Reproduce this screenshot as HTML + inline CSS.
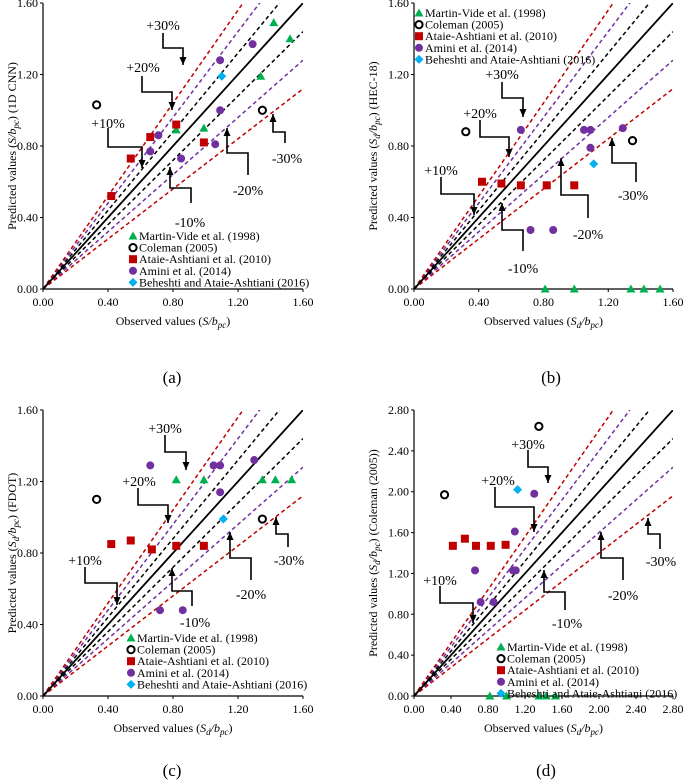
<!DOCTYPE html>
<html><head><meta charset="utf-8">
<style>
html,body{margin:0;padding:0;background:#fff;}
svg{display:block;font-family:"Liberation Serif",serif;}
</style></head>
<body>
<svg id="fig" width="685" height="782" viewBox="0 0 685 782" xmlns="http://www.w3.org/2000/svg"></svg>
<script>
// ---------- Data (panel a: 1D CNN) ----------
const aMartinX=[1.42,1.52,1.34,0.99,0.82];
const aMartinY=[1.49,1.40,1.19,0.90,0.89];
const aColemanX=[0.33,1.35];
const aColemanY=[1.03,1.00];
const aAtaieX=[0.42,0.54,0.66,0.82,0.99];
const aAtaieY=[0.52,0.73,0.85,0.92,0.82];
const aAminiX=[0.66,0.71,0.85,1.09,1.09,1.06,1.29];
const aAminiY=[0.77,0.86,0.73,1.28,1.00,0.81,1.37];
const aBeheshtiX=[1.10];
const aBeheshtiY=[1.19];
// ---------- panel b: HEC-18 ----------
const bMartinX=[0.81,0.99,1.34,1.42,1.52];
const bMartinY=[0,0,0,0,0];
const bColemanX=[0.32,1.35];
const bColemanY=[0.88,0.83];
const bAtaieX=[0.42,0.54,0.66,0.82,0.99];
const bAtaieY=[0.60,0.59,0.58,0.58,0.58];
const bAminiX=[0.66,1.05,1.09,1.29,1.09,0.72,0.86];
const bAminiY=[0.89,0.89,0.89,0.90,0.79,0.33,0.33];
const bBeheshtiX=[1.11];
const bBeheshtiY=[0.70];
// ---------- panel c: FDOT ----------
const cMartinX=[0.82,0.99,1.35,1.43,1.53];
const cMartinY=[1.21,1.21,1.21,1.21,1.21];
const cColemanX=[0.33,1.35];
const cColemanY=[1.10,0.99];
const cAtaieX=[0.42,0.54,0.67,0.82,0.99];
const cAtaieY=[0.85,0.87,0.82,0.84,0.84];
const cAminiX=[0.66,1.05,1.09,1.30,1.09,0.72,0.86];
const cAminiY=[1.29,1.29,1.29,1.32,1.14,0.48,0.48];
const cBeheshtiX=[1.11];
const cBeheshtiY=[0.99];
// ---------- panel d: Coleman (2005) ----------
const dMartinX=[0.82,1.00,1.35,1.43,1.53];
const dMartinY=[0,0,0,0,0];
const dColemanX=[0.33,1.35];
const dColemanY=[1.97,2.64];
const dAtaieX=[0.42,0.55,0.67,0.83,0.99];
const dAtaieY=[1.47,1.54,1.47,1.47,1.48];
const dAminiX=[0.66,0.72,0.86,1.30,1.09,1.07,1.10];
const dAminiY=[1.23,0.92,0.92,1.98,1.61,1.23,1.23];
const dBeheshtiX=[1.12];
const dBeheshtiY=[2.02];
// tick labels
const ticks16=["0.00","0.40","0.80","1.20","1.60"];
const ticks28=["0.00","0.40","0.80","1.20","1.60","2.00","2.40","2.80"];
const bandFactors=[1.1,0.9,1.2,0.8,1.3,0.7];
const legendLabels=["Martin-Vide et al. (1998)","Coleman (2005)","Ataie-Ashtiani et al. (2010)","Amini et al. (2014)","Beheshti and Ataie-Ashtiani (2016)"];

const NS="http://www.w3.org/2000/svg";
const svg=document.getElementById('fig');
function mk(tag,attrs,parent){const e=document.createElementNS(NS,tag);for(const k in attrs)e.setAttribute(k,attrs[k]);(parent||svg).appendChild(e);return e;}

const panels=[
 {id:'a',x0:43,y0:3,w:260,h:286,max:1.6,ticks:ticks16,ytitle:['Predicted values (','S','/','b','pc',') (1D CNN)'],xsub:false,
  sets:[[aMartinX,aMartinY],[aColemanX,aColemanY],[aAtaieX,aAtaieY],[aAminiX,aAminiY],[aBeheshtiX,aBeheshtiY]],
  legend:[90,233],titleX:12,label:[172,377],
  ann:[['+30%',120,22,[[120,30],[120,45],[140,45],[140,62]]],['+20%',100,64,[[99,73],[99,89],[129,89],[129,107]]],['+10%',65,120,[[65,125],[65,144],[99,144],[99,165]]],
       ['-10%',147,219,[[148,200],[148,185],[127,185],[127,164]]],['-20%',205,187,[[205,172],[205,150],[184,150],[184,125]]],['-30%',244,155,[[242,140],[242,129],[230,129],[230,111]]]]},
 {id:'b',x0:414,y0:3,w:259,h:286,max:1.6,ticks:ticks16,ytitle:['Predicted values (','S','d','/b','pc',') (HEC-18)'],xsub:true,
  sets:[[bMartinX,bMartinY],[bColemanX,bColemanY],[bAtaieX,bAtaieY],[bAminiX,bAminiY],[bBeheshtiX,bBeheshtiY]],
  legend:[5,10],titleX:373,label:[551,377],
  ann:[['+30%',88,71,[[88,79],[88,95],[109,95],[109,114]]],['+20%',66,110,[[66,117],[66,134],[95,134],[95,154]]],['+10%',27,167,[[27,174],[27,191],[60,191],[60,212]]],
       ['-10%',109,265,[[109,248],[109,227],[88,227],[88,200]]],['-20%',174,231,[[174,215],[174,192],[147,192],[147,155]]],['-30%',219,192,[[222,179],[222,160],[198,160],[198,135]]]]},
 {id:'c',x0:43,y0:410,w:260,h:286,max:1.6,ticks:ticks16,ytitle:['Predicted values (','S','d','/b','pc',') (FDOT)'],xsub:true,
  sets:[[cMartinX,cMartinY],[cColemanX,cColemanY],[cAtaieX,cAtaieY],[cAminiX,cAminiY],[cBeheshtiX,cBeheshtiY]],
  legend:[88,228],titleX:12,label:[172,770],
  ann:[['+30%',122,18,[[122,25],[122,42],[143,42],[143,60]]],['+20%',96,71,[[95,78],[95,95],[125,95],[125,113]]],['+10%',42,150,[[42,157],[42,173],[74,173],[74,195]]],
       ['-10%',152,212,[[149,196],[149,181],[129,181],[129,158]]],['-20%',208,184,[[208,170],[208,148],[187,148],[187,122]]],['-30%',246,150,[[245,137],[245,124],[233,124],[233,107]]]]},
 {id:'d',x0:414,y0:410,w:259,h:286,max:2.8,ticks:ticks28,ytitle:['Predicted values (','S','d','/b','pc',') (Coleman (2005))'],xsub:true,
  sets:[[dMartinX,dMartinY],[dColemanX,dColemanY],[dAtaieX,dAtaieY],[dAminiX,dAminiY],[dBeheshtiX,dBeheshtiY]],
  legend:[87,237],titleX:373,label:[546,770],
  ann:[['+30%',114,34,[[114,40],[114,57],[134,57],[134,73]]],['+20%',84,70,[[81,77],[81,97],[120,97],[120,122]]],['+10%',26,170,[[26,176],[26,193],[59,193],[59,213]]],
       ['-10%',153,213,[[151,200],[151,182],[130,182],[130,160]]],['-20%',209,185,[[209,170],[209,148],[187,148],[187,122]]],['-30%',247,151,[[246,139],[246,124],[234,124],[234,108]]]]}
];

function marker(g,type,cx,cy,name){
  let e;
  if(type===0) e=mk('polygon',{points:`${cx},${cy-4.5} ${cx-4.5},${cy+3.5} ${cx+4.5},${cy+3.5}`,fill:'#00b050'},g);
  else if(type===1) e=mk('circle',{cx,cy,r:3.6,fill:'none',stroke:'#000','stroke-width':2},g);
  else if(type===2) e=mk('rect',{x:cx-4,y:cy-4,width:8,height:8,fill:'#c00000'},g);
  else if(type===3) e=mk('circle',{cx,cy,r:4,fill:'#7030a0'},g);
  else e=mk('polygon',{points:`${cx},${cy-4.5} ${cx+4.5},${cy} ${cx},${cy+4.5} ${cx-4.5},${cy}`,fill:'#00b0f0'},g);
  
  
  return e;
}
const seriesNames=['martin-vide-point','coleman-point','ataie-ashtiani-point','amini-point','beheshti-point'];

panels.forEach(p=>{
  const g=mk('g',{});
  
  
  const sx=v=>p.x0+v/p.max*p.w, sy=v=>p.y0+p.h-v/p.max*p.h;
  const cp=mk('clipPath',{id:'clip'+p.id},g);
  mk('rect',{x:p.x0,y:p.y0,width:p.w,height:p.h},cp);
  const lines=mk('g',{'clip-path':`url(#clip${p.id})`},g);
  
  
  const colors=['#000','#000','#7030a0','#7030a0','#c00000','#c00000'];
  bandFactors.forEach((f,i)=>{
    const l=mk('line',{x1:sx(0),y1:sy(0),x2:sx(p.max),y2:sy(p.max*f),stroke:colors[i],'stroke-width':1.5,'stroke-dasharray':'4,3'},lines);
    
    
  });
  const one=mk('line',{x1:sx(0),y1:sy(0),x2:sx(p.max),y2:sy(p.max),stroke:'#000','stroke-width':1.8},lines);
  
  
  const ax=mk('path',{d:`M${p.x0},${p.y0}V${p.y0+p.h}H${p.x0+p.w}`,fill:'none',stroke:'#000','stroke-width':1.2},g);
  
  
  p.ticks.forEach(t=>{
    const v=parseFloat(t);
    const xl=mk('text',{x:sx(v),y:p.y0+p.h+17,'text-anchor':'middle','font-size':12},g);
    xl.textContent=t;
    
    
    const yl=mk('text',{x:p.x0-5,y:sy(v)+4,'text-anchor':'end','font-size':12},g);
    yl.textContent=t;
    
    
    mk('line',{x1:sx(v),y1:p.y0+p.h,x2:sx(v),y2:p.y0+p.h+3,stroke:'#000'},g);
    mk('line',{x1:p.x0-3,y1:sy(v),x2:p.x0,y2:sy(v),stroke:'#000'},g);
  });
  p.ann.forEach(a=>{
    const [lab,lx,ly,pts]=a;
    const ag=mk('g',{},g);
    
    
    const d=pts.map((q,i)=>(i?'L':'M')+(p.x0+q[0])+','+(p.y0+q[1])).join('');
    mk('path',{d,fill:'none',stroke:'#000','stroke-width':1.6},ag);
    const last=pts[pts.length-1],prev=pts[pts.length-2];
    const dir=last[1]>prev[1]?1:-1;
    const X=p.x0+last[0],Y=p.y0+last[1];
    mk('polygon',{points:`${X},${Y} ${X-3.5},${Y-dir*8} ${X+3.5},${Y-dir*8}`,fill:'#000'},ag);
    const t=mk('text',{x:p.x0+lx,y:p.y0+ly+5,'text-anchor':'middle','font-size':14},ag);
    t.textContent=lab;
  });
  p.sets.forEach((s,k)=>{
    const sg=mk('g',{},g);
    
    
    s[0].forEach((xv,i)=>marker(sg,k,sx(xv),sy(s[1][i]),seriesNames[k]));
  });
  const lg=mk('g',{},g);
  
  
  legendLabels.forEach((lab,i)=>{
    const ey=p.y0+p.legend[1]+i*11.6, ex=p.x0+p.legend[0];
    const eg=mk('g',{},lg);
    
    
    marker(eg,i,ex,ey,'legend-marker');
    const t=mk('text',{x:ex+6,y:ey+4,'font-size':12},eg);
    t.textContent=lab;
  });
  const yt=mk('text',{x:p.titleX,y:p.y0+p.h/2,'text-anchor':'middle','font-size':12,transform:`rotate(-90 ${p.titleX} ${p.y0+p.h/2})`,dy:4},g);
  
  
  const yp=p.ytitle;
  if(yp.length===6 && yp[2]==='d'){
    yt.innerHTML=`${yp[0]}<tspan font-style="italic">S</tspan><tspan font-style="italic" font-size="9" dy="3">d</tspan><tspan dy="-3" font-style="italic">/b</tspan><tspan font-style="italic" font-size="9" dy="3">pc</tspan><tspan dy="-3">${yp[5]}</tspan>`;
  } else {
    yt.innerHTML=`${yp[0]}<tspan font-style="italic">S/b</tspan><tspan font-style="italic" font-size="9" dy="3">pc</tspan><tspan dy="-3">${yp[5]}</tspan>`;
  }
  const xt=mk('text',{x:p.x0+p.w/2,y:p.y0+p.h+36,'text-anchor':'middle','font-size':12},g);
  
  
  xt.innerHTML=p.xsub?`Observed values (<tspan font-style="italic">S</tspan><tspan font-style="italic" font-size="9" dy="3">d</tspan><tspan dy="-3" font-style="italic">/b</tspan><tspan font-style="italic" font-size="9" dy="3">pc</tspan><tspan dy="-3">)</tspan>`:`Observed values (<tspan font-style="italic">S/b</tspan><tspan font-style="italic" font-size="9" dy="3">pc</tspan><tspan dy="-3">)</tspan>`;
  const pl=mk('text',{x:p.label[0],y:p.label[1]+6,'text-anchor':'middle','font-size':17},g);
  pl.textContent='('+p.id+')';
  
  
});
</script>
</body></html>
